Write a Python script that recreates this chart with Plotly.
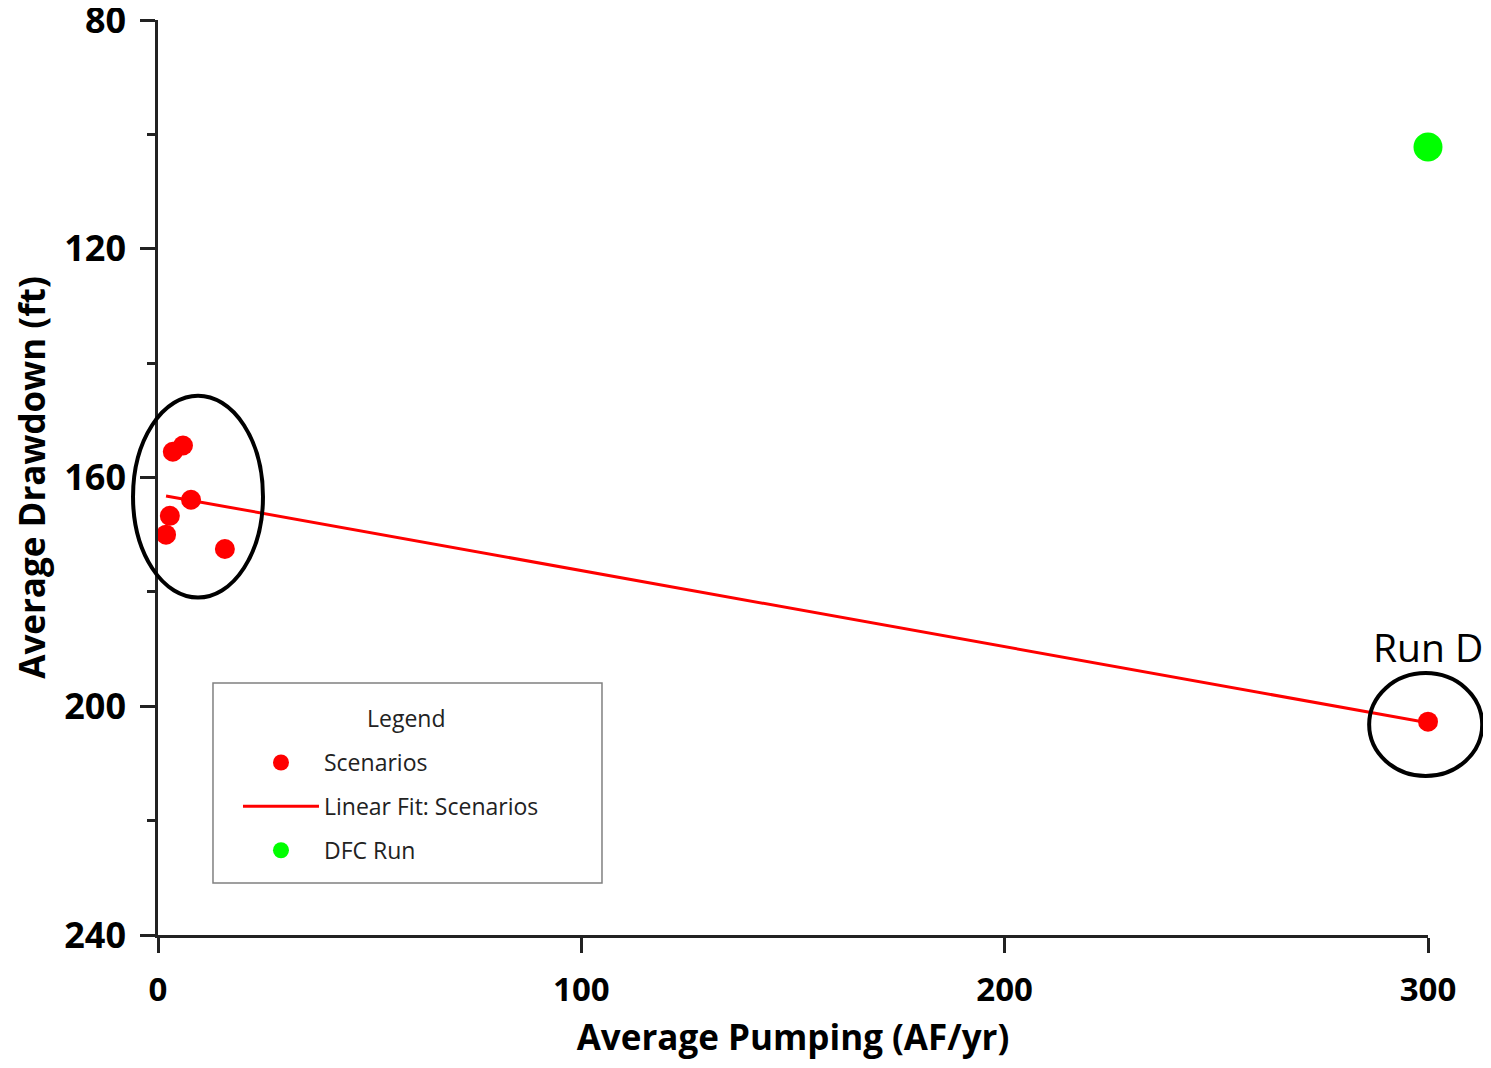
import numpy as np
import plotly.graph_objects as go

# ---- data ----
scen_pumping = [3.5, 5.9, 7.8, 2.8, 1.9, 15.8, 300.0]
scen_drawdown = [155.5, 154.4, 163.9, 166.7, 170.0, 172.5, 202.7]
dfc_pumping = [300.0]
dfc_drawdown = [102.2]

x_ticks = [0, 100, 200, 300]
y_ticks = [80, 120, 160, 200, 240]
y_minor_ticks = [100, 140, 180, 220]
x_range = [0, 300]
y_range = [240, 80]

# annotation ellipses (data units): x0, x1, y0, y1
ellipse_left = [-5.9, 24.8, 145.7, 181.0]
ellipse_rund = [286.1, 312.8, 194.2, 212.2]

# ---- linear fit of scenarios ----
slope, intercept = np.polyfit(scen_pumping, scen_drawdown, 1)
fit_x = [min(scen_pumping), max(scen_pumping)]
fit_y = [slope * v + intercept for v in fit_x]

RED = "#FF0000"
GREEN = "#00FF00"
AXC = "#222222"

fig = go.Figure()
fig.add_trace(go.Scatter(x=fit_x, y=fit_y, mode="lines", name="Linear Fit: Scenarios",
                         line=dict(color=RED, width=3), legendrank=2, legendgroup="b",
                         cliponaxis=False))
fig.add_trace(go.Scatter(x=scen_pumping, y=scen_drawdown, mode="markers", name="Scenarios",
                         marker=dict(color=RED, size=20), legendrank=1, legendgroup="a",
                         cliponaxis=False))
fig.add_trace(go.Scatter(x=dfc_pumping, y=dfc_drawdown, mode="markers", name="DFC Run",
                         marker=dict(color=GREEN, size=29), legendrank=3, legendgroup="c",
                         cliponaxis=False))


def to_paper(e):
    x0 = (e[0] - x_range[0]) / (x_range[1] - x_range[0])
    x1 = (e[1] - x_range[0]) / (x_range[1] - x_range[0])
    y0 = (y_range[0] - e[2]) / (y_range[0] - y_range[1])
    y1 = (y_range[0] - e[3]) / (y_range[0] - y_range[1])
    return x0, x1, y0, y1


for e in (ellipse_left, ellipse_rund):
    x0, x1, y0, y1 = to_paper(e)
    fig.add_shape(type="circle", xref="paper", yref="paper", x0=x0, x1=x1, y0=y0, y1=y1,
                  line=dict(color="black", width=4), fillcolor="rgba(0,0,0,0)")

# legend frame
fig.add_shape(type="rect", xref="paper", yref="paper", x0=0.0433, x1=0.3496, y0=0.0568, y1=0.2754,
              line=dict(color="#808080", width=1.5), fillcolor="white", layer="above")
fig.add_annotation(x=0.196, y=0.2372, xref="paper", yref="paper", text="Legend", showarrow=False,
                   xanchor="center", yanchor="middle",
                   font=dict(family="Open Sans", size=23, color="#222222"))

fig.add_annotation(x=300, y=189.6, xref="x", yref="y", text="Run D", showarrow=False,
                   xanchor="center", yanchor="middle",
                   font=dict(family="Open Sans", size=39, color="black"))

xtick_font = dict(family="Open Sans", size=33, color="black", weight="bold")
ytick_font = dict(family="Open Sans", size=36, color="black", weight="bold")
title_font = dict(family="Open Sans", size=35, color="black", weight="bold")

fig.update_layout(
    width=1475, height=1052,
    margin=dict(l=150, r=55, t=12, b=125),
    paper_bgcolor="white", plot_bgcolor="white",
    showlegend=True,
    legend=dict(
        x=0.0433, y=0.2120, xanchor="left", yanchor="top",
        bgcolor="rgba(0,0,0,0)", borderwidth=0,
        font=dict(family="Open Sans", size=23, color="#222222"),
        traceorder="grouped", tracegroupgap=11, itemwidth=76,
        indentation=25,
    ),
    xaxis=dict(
        range=x_range, tickvals=x_ticks, showgrid=False, zeroline=False,
        showline=True, linecolor=AXC, linewidth=2.5, automargin=False,
        ticks="outside", ticklen=15, tickwidth=2.5, tickcolor=AXC,
        tickfont=xtick_font, ticklabelstandoff=9, ticklabeloverflow="allow",
        title=dict(text="Average Pumping (AF/yr)", font=title_font, standoff=32),
    ),
    yaxis=dict(
        range=y_range, tickvals=y_ticks, showgrid=False, zeroline=False,
        showline=True, linecolor=AXC, linewidth=2.5, automargin=False,
        ticks="outside", ticklen=15, tickwidth=2.5, tickcolor=AXC,
        minor=dict(tickvals=y_minor_ticks, ticks="outside", ticklen=8,
                   tickwidth=2.5, tickcolor=AXC, showgrid=False),
        tickfont=ytick_font, ticklabelstandoff=7, ticklabeloverflow="allow",
        title=dict(text="Average Drawdown (ft)", font=title_font, standoff=22),
    ),
)

fig.write_html("out.html")
